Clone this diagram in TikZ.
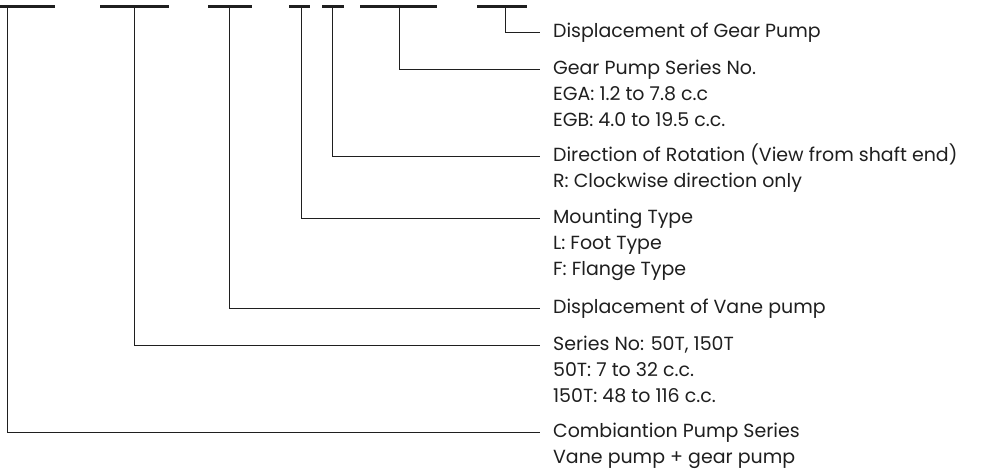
\documentclass[tikz,border=0pt]{standalone}
\usepackage{fontspec}
\setmainfont{Poppins}
\usetikzlibrary{positioning}

\begin{document}
\begin{tikzpicture}[
  x=0.03cm, y=-0.03cm,
  font=\fontsize{16.2}{22.2}\selectfont,
  color=black!88,
  bar/.style={line width=2.3pt},
  lead/.style={line width=0.7pt},
  head/.style={anchor=west, inner xsep=11pt, inner ysep=0pt},
  det/.style={anchor=north west, align=left, inner xsep=11pt, inner ysep=0pt}
]
  \useasboundingbox (0,0) rectangle (997,475);

  % code bars along the top
  \draw[bar] (0,6.5) -- (55,6.5);
  \draw[bar] (100,6.5) -- (169,6.5);
  \draw[bar] (208,6.5) -- (252,6.5);
  \draw[bar] (289,6.5) -- (310,6.5);
  \draw[bar] (322,6.5) -- (344,6.5);
  \draw[bar] (360,6.5) -- (437,6.5);
  \draw[bar] (477,6.5) -- (527,6.5);

  \coordinate (series) at (7.5,6.5);
  \coordinate (vane) at (134,6.5);
  \coordinate (vdisp) at (229,6.5);
  \coordinate (mount) at (301,6.5);
  \coordinate (rot) at (332,6.5);
  \coordinate (gear) at (399,6.5);
  \coordinate (gdisp) at (505,6.5);

  % descriptions
  \node[head] (gdispT) at (540,32) {\strut Displacement of Gear Pump};
  \node[head] (gearT) at (540,69) {\strut Gear Pump Series No.};
  \node[det] (gearD) at (gearT.south west) {\strut EGA: 1.2 to 7.8 c.c\\ \strut EGB: 4.0 to 19.5 c.c.};
  \node[head] (rotT) at (540,156) {\strut Direction of Rotation (View from shaft end)};
  \node[det] (rotD) at (rotT.south west) {\strut R: Clockwise direction only};
  \node[head] (mountT) at (540,218) {\strut Mounting Type};
  \node[det] (mountD) at (mountT.south west) {\strut L: Foot Type\\ \strut F: Flange Type};
  \node[head] (vdispT) at (540,308) {\strut Displacement of Vane pump};
  \node[head] (vaneT) at (540,345) {\strut Series No: 50T, 150T};
  \node[det] (vaneD) at (vaneT.south west) {\strut 50T: 7 to 32 c.c.\\ \strut 150T: 48 to 116 c.c.};
  \node[head] (seriesT) at (540,432) {\strut Combiantion Pump Series};
  \node[det] (seriesD) at (seriesT.south west) {\strut Vane pump + gear pump};

  \draw[lead] (gdisp) |- (gdispT.west);
  \draw[lead] (gear) |- (gearT.west);
  \draw[lead] (rot) |- (rotT.west);
  \draw[lead] (mount) |- (mountT.west);
  \draw[lead] (vdisp) |- (vdispT.west);
  \draw[lead] (vane) |- (vaneT.west);
  \draw[lead] (series) |- (seriesT.west);
\end{tikzpicture}
\end{document}
